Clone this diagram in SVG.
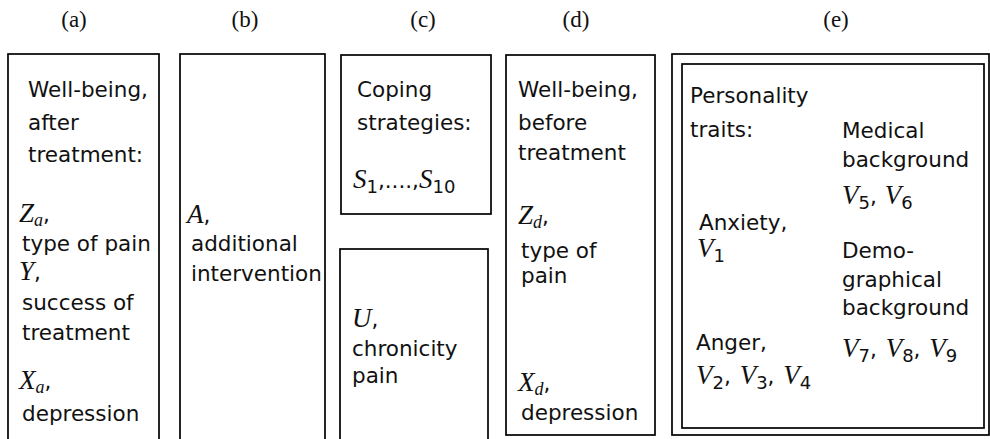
<svg xmlns="http://www.w3.org/2000/svg" width="990" height="439" viewBox="0 0 990 439">
<style>
.box{fill:none;stroke:#000;stroke-width:1.7}
.lab{font-family:"Liberation Serif",serif;font-size:23px;fill:#111;text-anchor:middle}
.t{font-family:"DejaVu Sans",sans-serif;font-size:21.5px;fill:#111}
.m{font-family:"Liberation Serif",serif;font-style:italic;font-size:27px}
.s{font-family:"Liberation Serif",serif;font-style:italic;font-size:18px}
.d{font-family:"DejaVu Sans",sans-serif;font-size:18px}
</style>
<rect width="990" height="439" fill="#fff"/>
<g id="labels">
<text class="lab" x="74" y="27">(a)</text>
<text class="lab" x="245" y="27">(b)</text>
<text class="lab" x="423" y="27">(c)</text>
<text class="lab" x="576" y="27">(d)</text>
<text class="lab" x="836" y="27">(e)</text>
</g>
<g id="node-a">
<rect class="box" x="8" y="54" width="151" height="400"/>
<text class="t" x="28" y="97">Well-being,</text>
<text class="t" x="28" y="130">after</text>
<text class="t" x="28" y="162">treatment:</text>
<text class="t" x="19" y="222"><tspan class="m">Z</tspan><tspan class="s" dy="4">a</tspan><tspan dy="-4">,</tspan></text>
<text class="t" x="22" y="251">type of pain</text>
<text class="t" x="19" y="280"><tspan class="m">Y</tspan>,</text>
<text class="t" x="22" y="310">success of</text>
<text class="t" x="22" y="340">treatment</text>
<text class="t" x="19" y="389"><tspan class="m">X</tspan><tspan class="s" dy="4">a</tspan><tspan dy="-4">,</tspan></text>
<text class="t" x="22" y="421">depression</text>
</g>
<g id="node-b">
<rect class="box" x="180" y="54" width="145" height="400"/>
<text class="t" x="187" y="223"><tspan class="m">A</tspan>,</text>
<text class="t" x="191" y="251">additional</text>
<text class="t" x="191" y="281">intervention</text>
</g>
<g id="node-c-strategies">
<rect class="box" x="341" y="55" width="150" height="159"/>
<text class="t" x="357" y="97">Coping</text>
<text class="t" x="357" y="130">strategies:</text>
<text class="t" x="353" y="188"><tspan class="m">S</tspan><tspan class="d" dy="5">1</tspan><tspan dy="-5">,....,</tspan><tspan class="m">S</tspan><tspan class="d" dy="5">10</tspan></text>
</g>
<g id="node-c-chronicity">
<rect class="box" x="340" y="249" width="148" height="210"/>
<text class="t" x="352" y="327"><tspan class="m">U</tspan>,</text>
<text class="t" x="352" y="356">chronicity</text>
<text class="t" x="352" y="383">pain</text>
</g>
<g id="node-d">
<rect class="box" x="506" y="55" width="149" height="380"/>
<text class="t" x="518" y="97">Well-being,</text>
<text class="t" x="518" y="130">before</text>
<text class="t" x="518" y="160">treatment</text>
<text class="t" x="518" y="224"><tspan class="m">Z</tspan><tspan class="s" dy="4">d</tspan><tspan dy="-4">,</tspan></text>
<text class="t" x="521" y="258">type of</text>
<text class="t" x="521" y="283">pain</text>
<text class="t" x="518" y="391"><tspan class="m">X</tspan><tspan class="s" dy="4">d</tspan><tspan dy="-4">,</tspan></text>
<text class="t" x="521" y="420">depression</text>
</g>
<g id="node-e">
<rect class="box" x="672" y="54" width="317" height="381"/>
<rect class="box" x="682" y="64" width="302" height="364"/>
<text class="t" x="690" y="103">Personality</text>
<text class="t" x="690" y="137">traits:</text>
<text class="t" x="842" y="138">Medical</text>
<text class="t" x="842" y="167">background</text>
<text class="t" x="842" y="204"><tspan class="m">V</tspan><tspan class="d" dy="5">5</tspan><tspan dy="-5">, </tspan><tspan class="m" dx="1">V</tspan><tspan class="d" dy="5">6</tspan></text>
<text class="t" x="699" y="230">Anxiety,</text>
<text class="t" x="697" y="257"><tspan class="m">V</tspan><tspan class="d" dy="5">1</tspan></text>
<text class="t" x="842" y="258">Demo-</text>
<text class="t" x="842" y="287">graphical</text>
<text class="t" x="842" y="315">background</text>
<text class="t" x="696" y="350">Anger,</text>
<text class="t" x="842" y="357"><tspan class="m">V</tspan><tspan class="d" dy="5">7</tspan><tspan dy="-5">, </tspan><tspan class="m" dx="2">V</tspan><tspan class="d" dy="5">8</tspan><tspan dy="-5">, </tspan><tspan class="m" dx="2">V</tspan><tspan class="d" dy="5">9</tspan></text>
<text class="t" x="696" y="384"><tspan class="m">V</tspan><tspan class="d" dy="5">2</tspan><tspan dy="-5">, </tspan><tspan class="m" dx="2">V</tspan><tspan class="d" dy="5">3</tspan><tspan dy="-5">, </tspan><tspan class="m" dx="2">V</tspan><tspan class="d" dy="5">4</tspan></text>
</g>
<g id="connectors"></g>
</svg>
